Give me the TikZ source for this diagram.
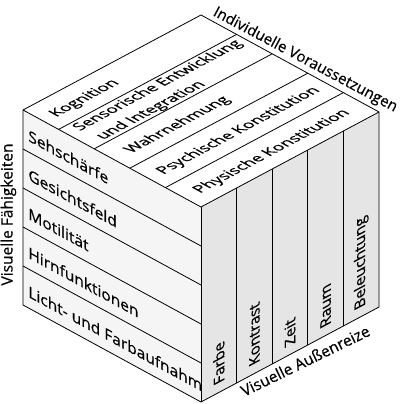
\documentclass[tikz,border=0pt]{standalone}
\usepackage{fontspec}
\setmainfont{Open Sans}[FakeBold=0.5]
\usetikzlibrary{calc}
\begin{document}
\begin{tikzpicture}[x=1pt,y=1pt,line width=0.8pt,line join=round,
  lbl/.style={inner sep=0pt,font=\fontsize{15.5}{17}\selectfont},
  leftface/.style={lbl,anchor=base west,cm={1,-0.545,0,1,(0,0)}},
  topface/.style={lbl,anchor=base west,cm={0.92,0.491,-0.85,0.464,(0,0)}},
  rightface/.style={lbl,anchor=west,cm={0,1,-0.95,-0.507,(0,0)}}]
\useasboundingbox (0,0) rectangle (401,404);
\coordinate (L) at (23,294);
\coordinate (F) at (201,197);
\coordinate (T) at (201,389);
\coordinate (R) at (379,292);
\coordinate (LB) at (23,99);
\coordinate (FB) at (201,2);
\coordinate (RB) at (379,97);
% faces
\fill[black!4] (L) -- (F) -- (FB) -- (LB) -- cycle;
\fill[black!10] (F) -- (R) -- (RB) -- (FB) -- cycle;
\foreach \k in {1,...,4} {
  \draw ($(L)!\k/5!(LB)$) -- ($(F)!\k/5!(FB)$);
  \draw ($(L)!\k/5!(F)$) -- ($(T)!\k/5!(R)$);
  \draw ($(F)!\k/5!(R)$) -- ($(FB)!\k/5!(RB)$);
}
\draw (L) -- (T) -- (R) -- (RB) -- (FB) -- (LB) -- cycle;
\draw (L) -- (F) -- (R);
\draw (F) -- (FB);
% left face
\begin{scope}
\clip (L) -- (F) -- (FB) -- (LB) -- cycle;
\foreach \txt [count=\k] in {Sehschärfe,Gesichtsfeld,Motilität,Hirnfunktionen,Licht- und Farbaufnahme}
  \node[leftface] (faehig\k) at (28,{302.3-39*\k}) {\txt};
\end{scope}
% top face
\begin{scope}[shift={(L)},x={(178pt,95pt)},y={(178pt,-97pt)}]
\node[topface] (vor1) at (0.055,0.13) {Kognition};
\node[topface] (vor2) at (0.05,0.268) {Sensorische Entwicklung};
\node[topface] (vor2b) at (0.07,0.378) {und Integration};
\node[topface] (vor3) at (0.08,0.527) {Wahrnehmung};
\node[topface] (vor4) at (0.06,0.727) {Psychische Konstitution};
\node[topface] (vor5) at (0.066,0.927) {Physische Konstitution};
\end{scope}
% right face
\foreach \txt [count=\j from 0] in {Farbe,Kontrast,Zeit,Raum,Beleuchtung}
  \node[rightface] (reiz\j) at ({201+35.6*(\j+0.5)},{10+35.6*(\j+0.5)*0.534}) {\txt};
% axis labels
\node[lbl,rotate=-28,anchor=base west] (voraus) at (212,389) {\fontsize{15.1}{17}\selectfont Individuelle Voraussetzungen};
\node[lbl,rotate=26,anchor=base west] (aussen) at (244,7) {Visuelle Außenreize};
\node[lbl,rotate=90,anchor=base] (faehig) at (12.5,189.5) {Visuelle Fähigkeiten};
\end{tikzpicture}
\end{document}
